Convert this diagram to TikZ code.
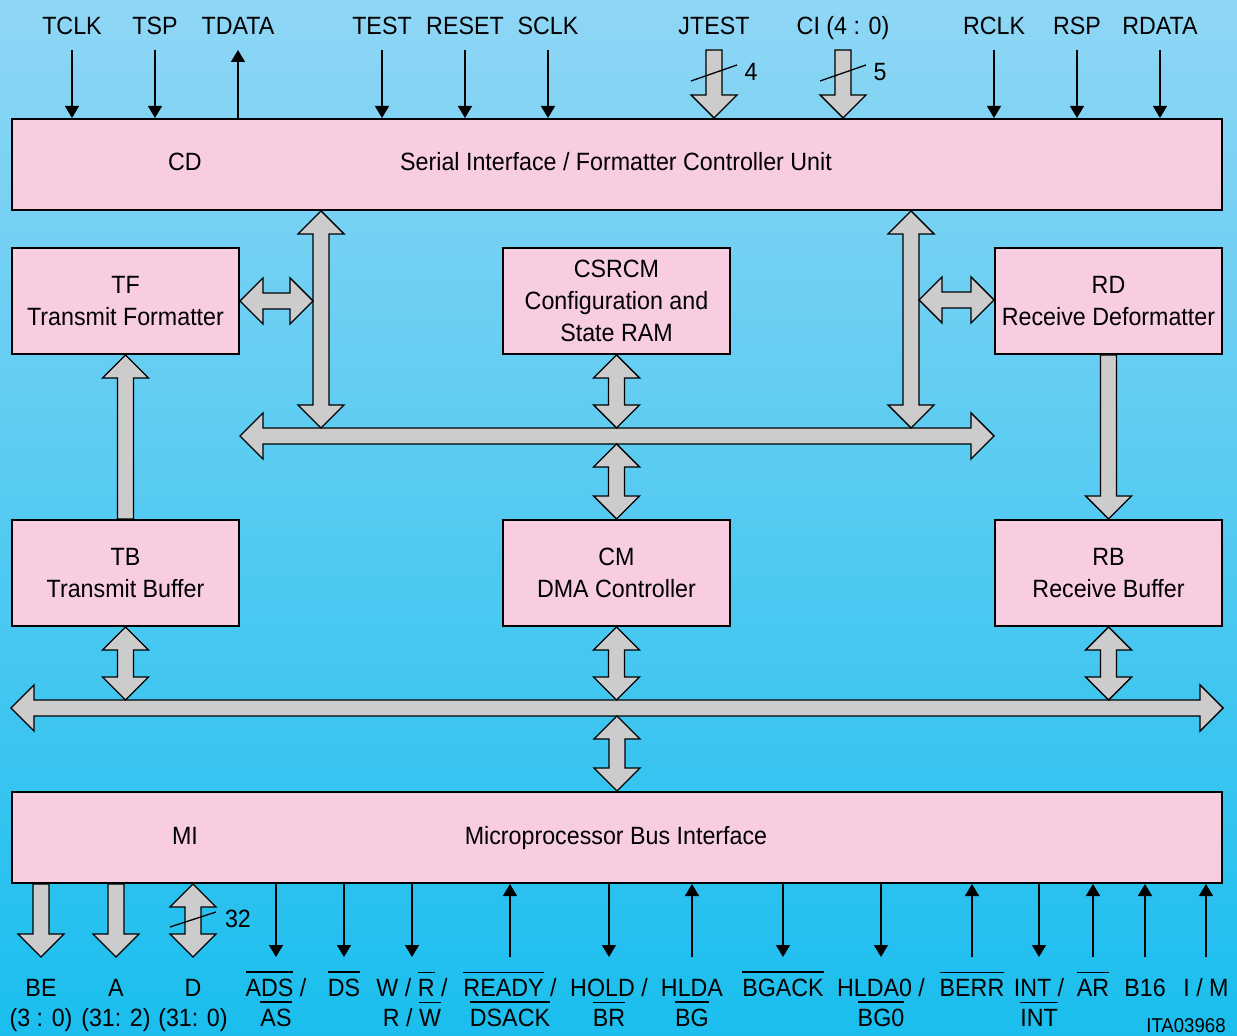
\documentclass[tikz,border=0pt]{standalone}
\usepackage{fontspec}
\setmainfont{Liberation Sans}[FakeStretch=0.93]
\usepackage{tikz}
\usetikzlibrary{calc,arrows.meta}
\definecolor{cielo}{HTML}{8FD6F5}
\definecolor{cian}{HTML}{1ABEEE}
\definecolor{rosa}{HTML}{F8CCE1}
\definecolor{plomo}{HTML}{CCCCCC}
\newcommand{\barra}[1]{\vbox{\hrule height 0.6pt\kern 3pt\hbox{#1}}}
\newcommand{\cabeza}{11.5pt}
\newcommand{\cuerpo}{4pt}
% fat arrows: top/bottom or left/right end points
\newcommand{\vbidir}[2]{\draw[grueso] let \p1=(#1), \p2=(#2) in
  (\x1,\y1) -- (\x1+\cabeza,\y1-\cabeza) -- (\x1+\cuerpo,\y1-\cabeza) -- (\x1+\cuerpo,\y2+\cabeza)
  -- (\x1+\cabeza,\y2+\cabeza) -- (\x1,\y2) -- (\x1-\cabeza,\y2+\cabeza) -- (\x1-\cuerpo,\y2+\cabeza)
  -- (\x1-\cuerpo,\y1-\cabeza) -- (\x1-\cabeza,\y1-\cabeza) -- cycle;}
\newcommand{\hbidir}[2]{\draw[grueso] let \p1=(#1), \p2=(#2) in
  (\x1,\y1) -- (\x1+\cabeza,\y1+\cabeza) -- (\x1+\cabeza,\y1+\cuerpo) -- (\x2-\cabeza,\y1+\cuerpo)
  -- (\x2-\cabeza,\y1+\cabeza) -- (\x2,\y1) -- (\x2-\cabeza,\y1-\cabeza) -- (\x2-\cabeza,\y1-\cuerpo)
  -- (\x1+\cabeza,\y1-\cuerpo) -- (\x1+\cabeza,\y1-\cabeza) -- cycle;}
\newcommand{\vup}[2]{\draw[grueso] let \p1=(#1), \p2=(#2) in
  (\x1,\y1) -- (\x1+\cabeza,\y1-\cabeza) -- (\x1+\cuerpo,\y1-\cabeza) -- (\x1+\cuerpo,\y2)
  -- (\x1-\cuerpo,\y2) -- (\x1-\cuerpo,\y1-\cabeza) -- (\x1-\cabeza,\y1-\cabeza) -- cycle;}
\newcommand{\vdown}[2]{\draw[grueso] let \p1=(#1), \p2=(#2) in
  (\x2,\y2) -- (\x2+\cabeza,\y2+\cabeza) -- (\x2+\cuerpo,\y2+\cabeza) -- (\x2+\cuerpo,\y1)
  -- (\x2-\cuerpo,\y1) -- (\x2-\cuerpo,\y2+\cabeza) -- (\x2-\cabeza,\y2+\cabeza) -- cycle;}

\begin{document}
\begin{tikzpicture}[x=0.5pt, y=-0.5pt, font=\fontsize{12.5pt}{16pt}\selectfont,
  caja/.style={draw, fill=rosa, line width=1pt, anchor=north west, inner sep=0pt, align=center},
  ancha/.style={caja, minimum width=605pt, minimum height=45.5pt},
  bloque/.style={caja, minimum width=113.5pt, minimum height=53pt},
  grueso/.style={draw, fill=plomo, line width=0.7pt, line join=miter},
  senal/.style={line width=0.65pt, -{Triangle[width=7pt, length=6pt]}},
  texto/.style={anchor=base, inner sep=0pt}]
  \shade[top color=cielo, bottom color=cian] (0,0) rectangle (1237,1036);
  \useasboundingbox (0,0) rectangle (1237,1036);

  % units and blocks
  \node[ancha] (cd) at (11,118) {};
  \node[texto] (cdtag) at (185,171) {CD};
  \node[texto] (cdname) at (616,171) {Serial Interface / Formatter Controller Unit};
  \node[bloque] (tf) at (11,247) {TF\\Transmit Formatter};
  \node[bloque] (csrcm) at (502,247) {CSRCM\\Configuration and\\State RAM};
  \node[bloque] (rd) at (994,247) {RD\\Receive Deformatter};
  \node[bloque] (tb) at (11,519) {TB\\Transmit Buffer};
  \node[bloque] (cm) at (502,519) {CM\\DMA Controller};
  \node[bloque] (rb) at (994,519) {RB\\Receive Buffer};
  \node[ancha] (mi) at (11,791) {};
  \node[texto] (mitag) at (185,844) {MI};
  \node[texto] (miname) at (616,844) {Microprocessor Bus Interface};

  % internal bus
  \coordinate (ibus-w) at (tf.east |- 0,436);
  \coordinate (ibus-e) at (rd.west |- 0,436);
  \hbidir{ibus-w}{ibus-e}
  \coordinate (lpole) at (321,428);
  \coordinate (rpole) at (911,428);
  \vbidir{lpole |- cd.south}{lpole}
  \vbidir{rpole |- cd.south}{rpole}
  \coordinate (ltap) at (313,300);
  \coordinate (rtap) at (919,300);
  \hbidir{tf.east}{ltap}
  \hbidir{rtap}{rd.west}
  \vbidir{csrcm.south}{csrcm.south |- 0,428}
  \vbidir{cm.north |- 0,444}{cm.north}
  \vup{tf.south}{tb.north}
  \vdown{rd.south}{rb.north}

  % external bus
  \hbidir{mi.north west |- 0,708}{mi.north east |- 0,708}
  \vbidir{tb.south}{tb.south |- 0,700}
  \vbidir{cm.south}{cm.south |- 0,700}
  \vbidir{rb.south}{rb.south |- 0,700}
  \vbidir{mi.north |- 0,716}{mi.north}

  % serial side signals
  \foreach \px/\nm in {72/TCLK, 155/TSP, 382/TEST, 465/RESET, 548/SCLK, 994/RCLK, 1077/RSP, 1160/RDATA}{
    \node[texto] (\nm) at (\px,35) {\nm};
    \coordinate (\nm-p) at (\px,50);
    \draw[senal] (\nm-p) -- (\nm-p |- cd.north);
  }
  \node[texto] (TDATA) at (238,35) {TDATA};
  \coordinate (TDATA-p) at (238,50);
  \draw[senal] (TDATA-p |- cd.north) -- (TDATA-p);
  \node[texto] (JTEST) at (714,35) {JTEST};
  \coordinate (JTEST-p) at (714,50);
  \vdown{JTEST-p}{JTEST-p |- cd.north}
  \draw[line width=0.65pt] ([shift={(-23,31)}]JTEST-p) -- ([shift={(23,15)}]JTEST-p);
  \node[texto] (JTEST-n) at (751,81) {4};
  \node[texto] (CI) at (843,35) {CI (4 : 0)};
  \coordinate (CI-p) at (843,50);
  \vdown{CI-p}{CI-p |- cd.north}
  \draw[line width=0.65pt] ([shift={(-23,31)}]CI-p) -- ([shift={(23,15)}]CI-p);
  \node[texto] (CI-n) at (880,81) {5};

  % microprocessor side signals
  \coordinate (be-p) at (41,957);
  \coordinate (a-p) at (116,957);
  \coordinate (d-p) at (193,957);
  \vdown{be-p |- mi.south}{be-p}
  \vdown{a-p |- mi.south}{a-p}
  \vbidir{d-p |- mi.south}{d-p}
  \draw[line width=0.65pt] ([shift={(-23,-30)}]d-p) -- ([shift={(23,-45)}]d-p);
  \node[texto] (d-n) at (238,927) {32};
  \foreach \px/\nm in {276/ads, 344/ds, 412/wr, 609/hold, 783/bgack, 881/hldao, 1039/int}{
    \coordinate (\nm-p) at (\px,957);
    \draw[senal] (\nm-p |- mi.south) -- (\nm-p);
  }
  \foreach \px/\nm in {510/ready, 692/hlda, 972/berr, 1093/ar, 1145/bsix, 1206/im}{
    \coordinate (\nm-p) at (\px,957);
    \draw[senal] (\nm-p) -- (\nm-p |- mi.south);
  }
  \node[texto] (be1) at (41,996) {BE};
  \node[texto] (be2) at (41,1026) {(3 : 0)};
  \node[texto] (a1) at (116,996) {A};
  \node[texto] (a2) at (116,1026) {(31: 2)};
  \node[texto] (d1) at (193,996) {D};
  \node[texto] (d2) at (193,1026) {(31: 0)};
  \node[texto] (ads1) at (276,996) {\barra{ADS} /};
  \node[texto] (ads2) at (276,1026) {\barra{AS}};
  \node[texto] (ds1) at (344,996) {\barra{DS}};
  \node[texto] (wr1) at (412,996) {W / \barra{R} /};
  \node[texto] (wr2) at (412,1026) {R / \barra{W}};
  \node[texto] (ready1) at (510,996) {\barra{READY} /};
  \node[texto] (ready2) at (510,1026) {\barra{DSACK}};
  \node[texto] (hold1) at (609,996) {HOLD /};
  \node[texto] (hold2) at (609,1026) {\barra{BR}};
  \node[texto] (hlda1) at (692,996) {HLDA};
  \node[texto] (hlda2) at (692,1026) {\barra{BG}};
  \node[texto] (bgack1) at (783,996) {\barra{BGACK}};
  \node[texto] (hldao1) at (881,996) {HLDA0 /};
  \node[texto] (hldao2) at (881,1026) {\barra{BG0}};
  \node[texto] (berr1) at (972,996) {\barra{BERR}};
  \node[texto] (int1) at (1039,996) {INT /};
  \node[texto] (int2) at (1039,1026) {\barra{INT}};
  \node[texto] (ar1) at (1093,996) {\barra{AR}};
  \node[texto] (bsix1) at (1145,996) {B16};
  \node[texto] (im1) at (1206,996) {I / M};
  \node[anchor=base east, inner sep=0pt, font=\fontsize{10pt}{11pt}\selectfont] (ita) at (1226,1032) {ITA03968};
\end{tikzpicture}
\end{document}
